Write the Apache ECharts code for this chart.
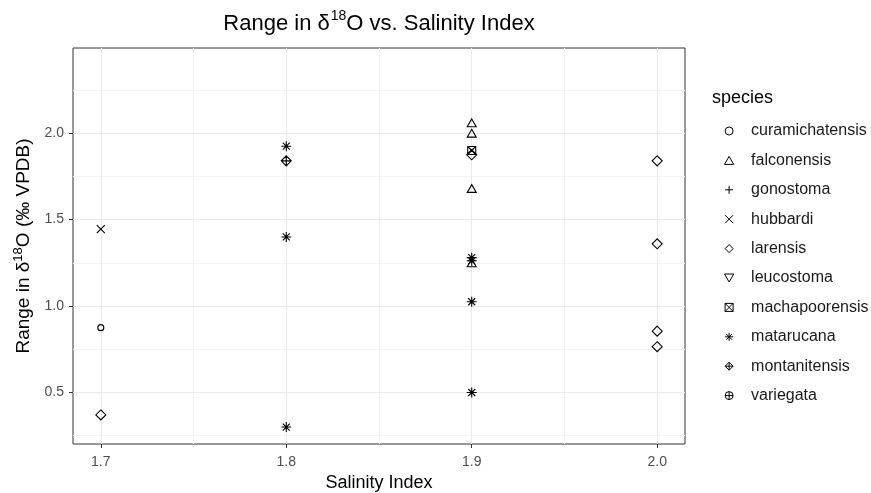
<!DOCTYPE html>
<html>
<head>
<meta charset="utf-8">
<script src="https://cdn.jsdelivr.net/npm/echarts@6/dist/echarts.min.js"></script>
<style>
html,body{margin:0;padding:0;background:#fff;}
#chart{width:871px;height:493px;}
</style>
</head>
<body>
<div id="chart"></div>
<script>
// ---- data ----
const species = ['curamichatensis','falconensis','gonostoma','hubbardi','larensis','leucostoma','machapoorensis','matarucana','montanitensis','variegata'];
const pointSpecies = [
  'curamichatensis',
  'falconensis','falconensis','falconensis','falconensis',
  'hubbardi',
  'larensis','larensis','larensis','larensis','larensis','larensis',
  'machapoorensis',
  'matarucana','matarucana','matarucana','matarucana','matarucana','matarucana','matarucana',
  'montanitensis'
];
const pointSalinity = [
  1.7,
  1.9,1.9,1.9,1.9,
  1.7,
  1.7,1.9,2.0,2.0,2.0,2.0,
  1.9,
  1.8,1.8,1.8,1.9,1.9,1.9,1.9,
  1.8
];
const pointRange = [
  0.875,
  2.06,2.00,1.68,1.25,
  1.445,
  0.37,1.875,1.84,1.36,0.855,0.765,
  1.90,
  1.925,1.40,0.30,1.28,1.262,1.025,0.50,
  1.84
];
const xTicks = [1.7,1.8,1.9,2.0];
const yTicks = [0.5,1.0,1.5,2.0];
const xMinor = [1.75,1.85,1.95];
const yMinor = [0.25,0.75,1.25,1.75,2.25];

// ---- shapes ----
const shapes = {
  curamichatensis: 'path://M0,5 A5,5 0 1,1 10,5 A5,5 0 1,1 0,5 Z',
  falconensis: 'path://M5,0 L10,8.66 L0,8.66 Z',
  gonostoma: 'path://M0,5 L10,5 M5,0 L5,10',
  hubbardi: 'path://M0,0 L10,10 M10,0 L0,10',
  larensis: 'path://M5,0 L10,5 L5,10 L0,5 Z',
  leucostoma: 'path://M0,0 L10,0 L5,8.66 Z',
  machapoorensis: 'path://M0,0 L10,0 L10,10 L0,10 Z M0,0 L10,10 M10,0 L0,10',
  matarucana: 'path://M0,5 L10,5 M5,0 L5,10 M1.5,1.5 L8.5,8.5 M8.5,1.5 L1.5,8.5',
  montanitensis: 'path://M5,0 L10,5 L5,10 L0,5 Z M0,5 L10,5 M5,0 L5,10',
  variegata: 'path://M0,5 A5,5 0 1,1 10,5 A5,5 0 1,1 0,5 Z M0,5 L10,5 M5,0 L5,10'
};
const sizes = {
  curamichatensis: 6, falconensis: 9, gonostoma: 10, hubbardi: 8, larensis: 10,
  leucostoma: 9, machapoorensis: 8, matarucana: 10, montanitensis: 10, variegata: 8
};

const FONT = 'Liberation Sans, Arial, sans-serif';

const series = species.map(function (sp) {
  const data = [];
  for (let i = 0; i < pointSpecies.length; i++) {
    if (pointSpecies[i] === sp) data.push([pointSalinity[i], pointRange[i]]);
  }
  return {
    name: sp,
    type: 'scatter',
    data: data,
    symbol: shapes[sp],
    symbolSize: sizes[sp],
    symbolKeepAspect: true,
    z: 3,
    itemStyle: { color: 'rgba(0,0,0,0)', borderColor: '#000', borderWidth: 1.1, opacity: 1 },
    emphasis: { disabled: true }
  };
});

// gridlines series
const gridLineData = [];
yMinor.forEach(v => gridLineData.push({ yAxis: v, lineStyle: { color: '#f3f3f3', width: 1 } }));
xMinor.forEach(v => gridLineData.push({ xAxis: v, lineStyle: { color: '#f3f3f3', width: 1 } }));
yTicks.forEach(v => gridLineData.push({ yAxis: v, lineStyle: { color: '#ebebeb', width: 1 } }));
xTicks.forEach(v => gridLineData.push({ xAxis: v, lineStyle: { color: '#ebebeb', width: 1 } }));
series.push({
  name: '_grid',
  type: 'scatter',
  data: [],
  z: 1,
  silent: true,
  markLine: {
    silent: true,
    z: 1,
    symbol: ['none', 'none'],
    label: { show: false },
    emphasis: { disabled: true },
    animation: false,
    lineStyle: { type: 'solid' },
    data: gridLineData
  }
});

const chart = echarts.init(document.getElementById('chart'), null, { renderer: 'canvas' });
chart.setOption({
  animation: false,
  backgroundColor: '#fff',
  title: [
    {
      text: '{a|Range in δ}{s|18}{a|O vs. Salinity Index}',
      left: 379, top: 9, textAlign: 'center', padding: 0,
      textStyle: {
        fontWeight: 'normal',
        rich: {
          a: { fontFamily: FONT, fontSize: 22, fontWeight: 'normal', color: '#000', lineHeight: 26, verticalAlign: 'bottom' },
          s: { fontFamily: FONT, fontSize: 14, fontWeight: 'normal', color: '#000', lineHeight: 26, verticalAlign: 'top', padding: [0, 0, 0, 1] }
        }
      }
    },
    {
      text: 'species', left: 712, top: 89, padding: 0,
      textStyle: { fontFamily: FONT, fontSize: 18, fontWeight: 'normal', color: '#000' }
    }
  ],
  grid: {
    left: 73, right: 186, top: 48, bottom: 49,
    outerBoundsMode: 'none', containLabel: false,
    show: true, borderColor: '#333', borderWidth: 1, backgroundColor: '#fff'
  },
  legend: {
    orient: 'vertical',
    left: 724, top: 122, padding: 0,
    itemWidth: 34, itemHeight: 8, itemGap: 11.4,
    data: species,
    textStyle: { fontFamily: FONT, fontSize: 16, color: '#1a1a1a', lineHeight: 18 },
    itemStyle: { color: 'rgba(0,0,0,0)', borderColor: '#000', borderWidth: 1 },
    selectedMode: false
  },
  xAxis: {
    type: 'value', min: 1.685, max: 2.015,
    name: 'Salinity Index', nameLocation: 'middle', nameGap: 30,
    nameTextStyle: { fontFamily: FONT, fontSize: 18, color: '#000' },
    axisLine: { show: false },
    axisTick: { show: true, length: 4, lineStyle: { color: '#333' }, customValues: xTicks },
    axisLabel: { customValues: xTicks, fontFamily: FONT, fontSize: 14, color: '#4d4d4d', margin: 11,
      formatter: v => v.toFixed(1) },
    splitLine: { show: false }
  },
  yAxis: {
    type: 'value', min: 0.202, max: 2.493,
    name: '{a|Range in δ}{s|18}{a|O (‰ VPDB)}', nameLocation: 'middle', nameGap: 34,
    nameTextStyle: {
      rich: {
        a: { fontFamily: FONT, fontSize: 19, color: '#000', lineHeight: 22, verticalAlign: 'bottom' },
        s: { fontFamily: FONT, fontSize: 13, color: '#000', lineHeight: 22, verticalAlign: 'top' }
      }
    },
    axisLine: { show: false },
    axisTick: { show: true, length: 4, lineStyle: { color: '#333' }, customValues: yTicks },
    axisLabel: { customValues: yTicks, fontFamily: FONT, fontSize: 14, color: '#4d4d4d', margin: 9,
      formatter: v => v.toFixed(1) },
    splitLine: { show: false }
  },
  series: series
});
</script>
</body>
</html>
